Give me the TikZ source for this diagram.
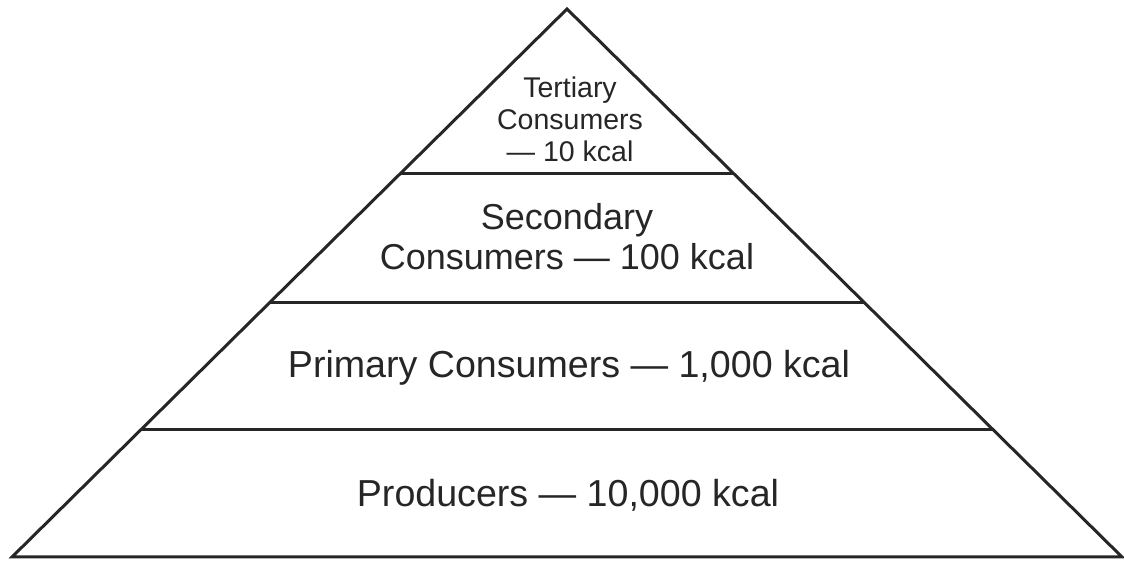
\documentclass[tikz,border=0pt]{standalone}
\usepackage{fontspec}
\setmainfont{Liberation Sans}
\usetikzlibrary{calc}
\begin{document}
\begin{tikzpicture}[x=1pt,y=1pt,
    tier/.style={line width=3pt,black!85},
    level/.style={anchor=base,align=center,text=black!85,inner sep=0pt}]
    \useasboundingbox (0,0) rectangle (1124,561);
    \coordinate (T) at (567,552);
    \coordinate (L) at (12,4);
    \coordinate (R) at (1122,4);
    \draw[tier] (L) -- (T) -- (R) -- cycle;
    \coordinate (L1) at ($(L)!0.2318!(T)$);
    \coordinate (R1) at ($(R)!0.2318!(T)$);
    \coordinate (L2) at ($(L)!0.4653!(T)$);
    \coordinate (R2) at ($(R)!0.4653!(T)$);
    \coordinate (L3) at ($(L)!0.6989!(T)$);
    \coordinate (R3) at ($(R)!0.6989!(T)$);
    \draw[tier] (L1) -- (R1);
    \draw[tier] (L2) -- (R2);
    \draw[tier] (L3) -- (R3);
    \node[level,font=\fontsize{37.6}{40}\selectfont] (prod) at (568,54) {Producers — 10,000 kcal};
    \node[level,font=\fontsize{37.6}{40}\selectfont] (prim) at (569,183) {Primary Consumers — 1,000 kcal};
    \node[level,font=\fontsize{36}{40}\selectfont] (sec) at (567,291) {Secondary\\Consumers — 100 kcal};
    \node[level,font=\fontsize{28.5}{32}\selectfont] (ter) at (570,399) {Tertiary\\Consumers\\— 10 kcal};
\end{tikzpicture}
\end{document}
